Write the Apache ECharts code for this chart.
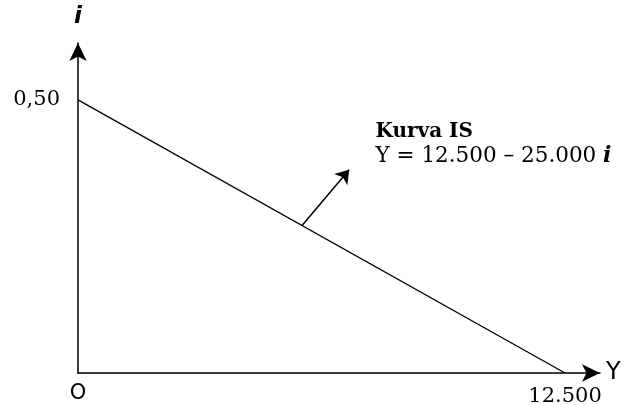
<!DOCTYPE html>
<html lang="id">
<head>
    <meta charset="UTF-8">
    <title>Kurva IS</title>
    <script src="https://cdn.jsdelivr.net/npm/echarts@6/dist/echarts.min.js"></script>
</head>
<body style="margin:0">
<div id="main" style="width: 625px;height:405px;"></div>
<script type="text/javascript">
    // data kurva IS: Y = 12.500 - 25.000 i
    var isPoints = [[0, 0.5], [12500, 0]];
    var xTicks = [0, 12500];
    var yTicks = [0.5];
    var arrowFrom = [5750, 0.27];
    var arrowTo = [6960, 0.372];
    var notePos = [7623, 0.419];

    var myChart = echarts.init(document.getElementById('main'));

    var option = {
        animation: false,
        grid: {left: 78, right: 25, top: 43, bottom: 32, containLabel: false, outerBoundsMode: 'none'},
        xAxis: {
            type: 'value',
            min: 0,
            max: 13398,
            name: 'Y',
            nameLocation: 'end',
            nameGap: 6,
            nameTextStyle: {fontFamily: 'DejaVu Sans', fontSize: 24, color: '#000', verticalAlign: 'middle', padding: [3, 0, 0, 0]},
            splitLine: {show: false},
            axisTick: {show: false},
            axisLine: {
                symbol: ['none', 'arrow'],
                symbolSize: [13, 18],
                lineStyle: {color: '#000', width: 1.5}
            },
            axisLabel: {
                customValues: xTicks,
                margin: 10,
                formatter: function (v) {
                    return v === 0 ? '{o|O}' : '{n|12.500}';
                },
                rich: {
                    o: {fontFamily: 'DejaVu Sans', fontSize: 21, color: '#000'},
                    n: {fontFamily: 'DejaVu Serif', fontSize: 21, color: '#000', padding: [3, 0, 0, 0]}
                }
            }
        },
        yAxis: {
            type: 'value',
            min: 0,
            max: 0.604,
            name: 'i',
            nameLocation: 'end',
            nameGap: 14,
            nameTextStyle: {fontFamily: 'DejaVu Sans', fontSize: 23, fontWeight: 'bold', fontStyle: 'italic', color: '#000'},
            splitLine: {show: false},
            axisTick: {show: false},
            axisLine: {
                symbol: ['none', 'arrow'],
                symbolSize: [13, 18],
                lineStyle: {color: '#000', width: 1.5}
            },
            axisLabel: {
                customValues: yTicks,
                margin: 18,
                fontFamily: 'DejaVu Serif',
                fontSize: 21,
                color: '#000',
                formatter: function (v) {
                    return v.toFixed(2).replace('.', ',');
                }
            }
        },
        series: [{
            type: 'line',
            data: isPoints,
            symbol: 'none',
            lineStyle: {color: '#000', width: 1.3},
            markLine: {
                silent: true,
                symbol: ['none', 'arrow'],
                symbolSize: 13,
                lineStyle: {color: '#000', width: 1.5, type: 'solid'},
                label: {show: false},
                data: [[{coord: arrowFrom}, {coord: arrowTo}]]
            },
            markPoint: {
                silent: true,
                symbol: 'circle',
                symbolSize: 1,
                itemStyle: {color: 'rgba(0,0,0,0)'},
                data: [{coord: notePos}],
                label: {
                    show: true,
                    position: 'right',
                    distance: 0,
                    formatter: '{b|Kurva IS}\n{t|Y = 12.500 – 25.000 }{i|i}',
                    rich: {
                        b: {fontFamily: 'DejaVu Serif', fontWeight: 'bold', fontSize: 20, color: '#000', lineHeight: 24},
                        t: {fontFamily: 'DejaVu Serif', fontSize: 21.5, color: '#000', lineHeight: 24},
                        i: {fontFamily: 'DejaVu Serif', fontSize: 22, fontWeight: 'bold', fontStyle: 'italic', color: '#000', lineHeight: 24}
                    }
                }
            }
        }]
    };

    myChart.setOption(option);
</script>
</body>
</html>
